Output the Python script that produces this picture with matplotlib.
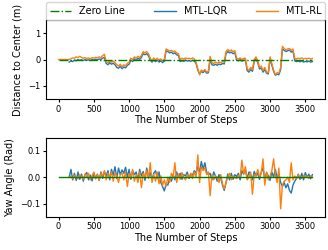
import matplotlib
matplotlib.use("Agg")
import matplotlib.pyplot as plt
import numpy as np

# step grid shared by both panels (controllers start at step 150)
steps = np.arange(150, 3601, 25)

# distance to lane center (m)
rl_dist = [0.0, 0.03, 0.06, 0.05, 0.1, 0.07, 0.12, 0.08, 0.05, 0.07,
           0.04, 0.06, 0.03, 0.07, 0.05, 0.08, 0.06, 0.1, 0.07, 0.15,
           0.2, -0.08, -0.12, -0.05, -0.1, -0.06, -0.12, -0.2, -0.25, -0.18,
           -0.28, -0.2, -0.24, -0.15, -0.1, 0.05, 0.0, 0.1, 0.05, 0.12,
           0.08, 0.15, 0.3, 0.25, 0.3, 0.22, 0.05, -0.05, 0.06, -0.02,
           0.05, -0.03, 0.02, -0.05, 0.0, 0.4, 0.36, 0.32, 0.35, 0.3,
           0.32, 0.25, 0.22, 0.0, 0.05, 0.02, 0.06, 0.03, 0.05, 0.02,
           0.06, 0.02, -0.1, -0.35, -0.58, -0.4, -0.45, -0.38, -0.48, -0.45,
           0.12, -0.12, -0.15, -0.1, -0.14, -0.1, -0.12, -0.08, -0.1, 0.3,
           0.38, 0.32, 0.36, 0.3, 0.34, 0.05, 0.02, 0.06, 0.0, 0.04,
           0.05, -0.35, -0.42, -0.3, -0.38, 0.0, 0.1, -0.05, -0.3, -0.25,
           -0.42, -0.3, -0.48, -0.5, 0.1, -0.15, -0.4, -0.58, -0.5, -0.52,
           -0.3, 0.5, 0.42, 0.36, 0.4, 0.42, 0.35, 0.4, 0.05, 0.02,
           0.05, 0.03, 0.06, 0.02, 0.04, 0.03, 0.05, 0.02, 0.04]
lqr_dist = [-0.1, -0.05, -0.08, -0.02, -0.05, 0.0, -0.03, -0.01, -0.04, 0.0,
            -0.03, -0.01, -0.04, 0.0, -0.02, 0.01, -0.02, 0.02, 0.0, 0.05,
            0.08, -0.15, -0.2, -0.12, -0.18, -0.14, -0.2, -0.3, -0.33, -0.26,
            -0.35, -0.28, -0.32, -0.22, -0.18, -0.02, -0.08, 0.02, -0.04, 0.05,
            0.0, 0.08, 0.22, 0.18, 0.22, 0.14, -0.02, -0.1, -0.02, -0.08,
            -0.02, -0.1, -0.05, -0.12, -0.06, 0.33, 0.3, 0.25, 0.28, 0.22,
            0.25, 0.18, 0.15, -0.08, -0.04, -0.07, -0.02, -0.06, -0.04, -0.07,
            -0.03, -0.06, -0.15, -0.4, -0.55, -0.45, -0.5, -0.42, -0.52, -0.5,
            0.02, -0.2, -0.22, -0.18, -0.22, -0.17, -0.2, -0.15, -0.17, 0.22,
            0.3, 0.25, 0.28, 0.22, 0.26, -0.02, -0.05, -0.01, -0.06, -0.03,
            -0.02, -0.42, -0.48, -0.38, -0.45, -0.08, 0.02, -0.12, -0.36, -0.32,
            -0.48, -0.38, -0.52, -0.55, 0.02, -0.22, -0.45, -0.6, -0.55, -0.58,
            -0.38, 0.4, 0.35, 0.3, 0.33, 0.36, 0.28, 0.32, -0.05, -0.08,
            -0.06, -0.09, -0.05, -0.1, -0.07, -0.09, -0.06, -0.1, -0.08]

# yaw angle (rad)
lqr_yaw = [0.0, 0.03, -0.01, 0.015, -0.012, 0.02, -0.008, 0.012, -0.015, 0.01,
           0.018, -0.01, 0.008, -0.014, 0.016, -0.006, 0.012, -0.012, 0.02, -0.004,
           0.022, 0.004, 0.025, -0.01, 0.03, 0.008, 0.04, -0.005, 0.035, 0.01,
           0.028, 0.015, 0.038, 0.0, 0.03, -0.008, 0.025, 0.01, 0.02, -0.01,
           0.03, 0.005, 0.022, -0.012, 0.035, 0.0, 0.018, -0.01, 0.015, 0.025,
           -0.005, 0.02, -0.02, -0.035, -0.052, -0.025, -0.03, 0.0, -0.015, 0.01,
           -0.01, 0.02, 0.0, 0.015, -0.008, 0.01, 0.005, 0.02, -0.005, 0.012,
           0.008, 0.025, 0.015, 0.04, 0.02, 0.06, 0.03, 0.055, 0.02, 0.01,
           0.015, -0.01, 0.02, 0.005, -0.015, 0.01, -0.005, -0.03, -0.05, -0.02,
           0.012, -0.01, 0.015, -0.008, 0.01, 0.003, 0.015, -0.01, 0.025, 0.012,
           0.03, -0.005, 0.02, 0.01, -0.01, 0.022, 0.005, 0.015, -0.008, 0.02,
           0.035, -0.01, 0.018, 0.005, -0.012, 0.02, 0.0, 0.03, -0.005, 0.015,
           -0.02, -0.035, -0.02, -0.04, -0.025, -0.05, -0.06, -0.03, -0.015, -0.005,
           0.012, -0.008, 0.015, -0.01, 0.018, 0.0, 0.012, -0.006, 0.01]
rl_yaw = [0.0, 0.005, -0.005, 0.008, 0.0, -0.006, 0.01, 0.002, -0.008, 0.012,
          0.0, 0.015, -0.01, 0.005, 0.02, -0.005, 0.01, -0.012, 0.015, 0.005,
          0.025, -0.01, 0.015, 0.0, 0.02, -0.015, 0.018, 0.005, -0.02, 0.01,
          0.015, -0.01, 0.02, -0.035, 0.012, 0.0, 0.03, -0.015, 0.01, -0.02,
          0.02, -0.04, 0.015, 0.0, 0.025, -0.005, 0.055, -0.02, 0.01, -0.015,
          0.02, -0.025, 0.005, -0.03, -0.01, -0.035, 0.0, -0.02, 0.015, 0.0,
          0.055, -0.02, 0.012, -0.008, 0.018, 0.0, -0.01, 0.01, 0.0, 0.015,
          -0.005, 0.02, 0.0, 0.085, -0.02, 0.04, 0.025, 0.035, 0.01, 0.02,
          -0.07, 0.01, -0.01, 0.005, 0.0, -0.02, 0.01, -0.025, -0.045, -0.02,
          0.0, 0.015, -0.01, 0.005, 0.0, -0.005, 0.008, 0.0, 0.065, 0.01,
          0.04, -0.01, 0.0, 0.02, -0.065, 0.01, 0.005, 0.03, 0.0, 0.015,
          0.07, -0.03, 0.02, -0.01, 0.005, 0.025, 0.07, 0.01, -0.02, 0.035,
          -0.12, -0.03, -0.015, -0.01, 0.0, -0.02, 0.055, -0.01, 0.005, -0.005,
          0.01, 0.0, -0.005, 0.008, 0.0, 0.005, -0.005, 0.006, 0.0]

zero_x = [0, 3600]
zero_y = [0, 0]

fig = plt.figure(figsize=(3.28, 2.5), dpi=100)
ax1 = fig.add_axes([0.140, 0.604, 0.851, 0.316])
ax2 = fig.add_axes([0.140, 0.133, 0.851, 0.316])

# top panel
ax1.plot(zero_x, zero_y, '-.', color='g', lw=1, label='Zero Line', zorder=3)
ax1.plot(steps, lqr_dist, color='tab:blue', lw=1, label='MTL-LQR')
ax1.plot(np.r_[0, steps], np.r_[0.0, rl_dist], color='tab:orange', lw=1, label='MTL-RL')
ax1.set_ylim(-1.5, 1.5)
ax1.set_xlim(-180, 3780)
ax1.set_xticks(range(0, 3501, 500))
ax1.set_ylabel('Distance to Center (m)', fontsize=7)
ax1.set_xlabel('The Number of Steps', fontsize=7, labelpad=1)
ax1.legend(bbox_to_anchor=(0, 1.0, 1, 0.2), loc='lower left', ncol=3,
           mode='expand', borderaxespad=0, fontsize=7, handlelength=2.2)

# bottom panel
ax2.plot(steps, lqr_yaw, color='tab:blue', lw=1)
ax2.plot(steps, rl_yaw, color='tab:orange', lw=1)
ax2.plot(zero_x, zero_y, '-', color='g', lw=1, zorder=3)
ax2.set_ylim(-0.15, 0.15)
ax2.set_xlim(-180, 3780)
ax2.set_xticks(range(0, 3501, 500))
ax2.set_ylabel('Yaw Angle (Rad)', fontsize=7)
ax2.set_xlabel('The Number of Steps', fontsize=7, labelpad=1)

for ax in (ax1, ax2):
    ax.tick_params(labelsize=6, length=2.5, pad=1.5)

fig.savefig('out.png', dpi=100)
